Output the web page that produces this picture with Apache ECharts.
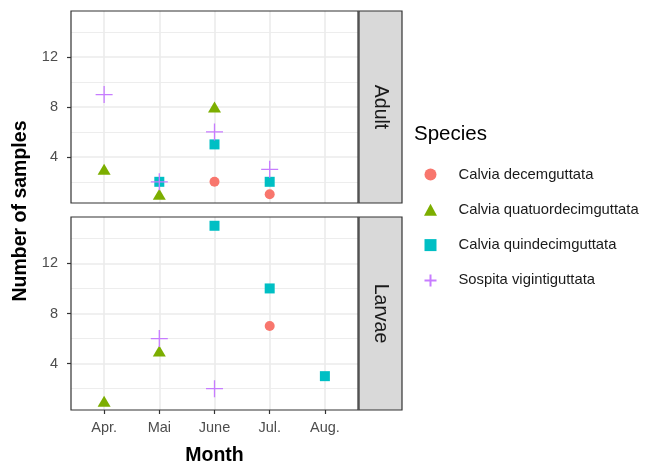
<!DOCTYPE html>
<html>
<head>
<meta charset="utf-8">
<script src="https://cdn.jsdelivr.net/npm/echarts@6/dist/echarts.min.js"></script>
<style>html,body{margin:0;padding:0;background:#fff}#c{width:649px;height:468px}</style>
</head>
<body>
<div id="c"></div>
<script>
const months = ['Apr.', 'Mai', 'June', 'Jul.', 'Aug.'];
const species = ['Calvia decemguttata', 'Calvia quatuordecimguttata', 'Calvia quindecimguttata', 'Sospita vigintiguttata'];
const panels = ['Adult', 'Larvae'];
// values per month (Apr., Mai, June, Jul., Aug.), null = no point
const adultDecem   = [null, null, 2, 1, null];
const adultQuatuor = [3, 1, 8, null, null];
const adultQuinde  = [null, 2, 5, 2, null];
const adultSospita = [9, 2, 6, 3, null];
const larvaeDecem   = [null, null, null, 7, null];
const larvaeQuatuor = [1, 5, null, null, null];
const larvaeQuinde  = [null, null, 15, 10, 3];
const larvaeSospita = [null, 6, 2, null, null];
const yTicks = [4, 8, 12];
const yMinor = [2, 6, 10, 14];

const colors = ['#F8766D', '#7CAE00', '#00BFC4', '#C77CFF'];
const plusPath = 'path://M5,0 L5,10 M0,5 L10,5';
const squarePath = 'path://M0,0 L10,0 L10,10 L0,10 Z';
const symbols = ['circle', 'triangle', 'rect', plusPath];
const legendIcons = ['circle', 'triangle', squarePath, plusPath];
const sizes = [10, [13, 11], 10, 17];
const panelData = [
  [adultDecem, adultQuatuor, adultQuinde, adultSospita],
  [larvaeDecem, larvaeQuatuor, larvaeQuinde, larvaeSospita]
];

const FONT = 'Liberation Sans, Arial, sans-serif';
const G = [
  {left: 71, top: 11, width: 287, height: 192},
  {left: 71, top: 217, width: 287, height: 193}
];

const series = [];
panelData.forEach((arr, p) => {
  const ml = [];
  yMinor.forEach(v => ml.push({yAxis: v, lineStyle: {color: '#EBEBEB', width: 0.9, type: 'solid'}}));
  yTicks.forEach(v => ml.push({yAxis: v, lineStyle: {color: '#EBEBEB', width: 1.6, type: 'solid'}}));
  months.forEach((m, i) => ml.push({xAxis: i + 1, lineStyle: {color: '#EBEBEB', width: 1.6, type: 'solid'}}));
  series.push({
    type: 'scatter', xAxisIndex: p, yAxisIndex: p, data: [], z: 1, silent: true,
    markLine: {silent: true, symbol: ['none', 'none'], label: {show: false}, animation: false, data: ml}
  });
  arr.forEach((vals, s) => {
    const data = [];
    vals.forEach((v, i) => { if (v !== null) data.push([i + 1, v]); });
    const isPlus = s === 3;
    series.push({
      name: species[s], type: 'scatter', xAxisIndex: p, yAxisIndex: p, z: 5,
      symbol: symbols[s], symbolSize: sizes[s], data: data,
      itemStyle: isPlus ? {color: 'rgba(0,0,0,0)', borderColor: colors[s], borderWidth: 1.3, opacity: 1}
                        : {color: colors[s], opacity: 1},
      emphasis: {disabled: true}
    });
  });
});

const xAxes = G.map((g, p) => ({
  type: 'value', gridIndex: p, min: 0.4, max: 5.6,
  axisLine: {show: false},
  splitLine: {show: false},
  axisTick: {show: p === 1, customValues: [1, 2, 3, 4, 5], length: 4, lineStyle: {color: '#333333', width: 1.2}},
  axisLabel: {show: p === 1, customValues: [1, 2, 3, 4, 5], formatter: v => months[Math.round(v) - 1] || '',
              color: '#4D4D4D', fontSize: 14.5, fontFamily: FONT, margin: 10},
  name: p === 1 ? 'Month' : '', nameLocation: 'middle', nameGap: 36,
  nameTextStyle: {fontSize: 19.5, fontWeight: 'bold', color: '#000', fontFamily: FONT}
}));
const yAxes = G.map((g, p) => ({
  type: 'value', gridIndex: p, min: 0.3, max: 15.7,
  axisLine: {show: false},
  splitLine: {show: false},
  axisTick: {show: true, customValues: yTicks, length: 4, lineStyle: {color: '#333333', width: 1.2}},
  axisLabel: {customValues: yTicks, color: '#4D4D4D', fontSize: 14.5, fontFamily: FONT, margin: 13}
}));

const graphics = [];
G.forEach((g, p) => {
  graphics.push({type: 'rect', z: 100, shape: {x: g.left, y: g.top, width: g.width, height: g.height},
    style: {fill: 'none', stroke: '#333333', lineWidth: 1.2}});
  graphics.push({type: 'rect', z: 100, shape: {x: g.left + g.width + 1, y: g.top, width: 43, height: g.height},
    style: {fill: '#D9D9D9', stroke: '#333333', lineWidth: 1.2}});
  graphics.push({type: 'text', z: 101, x: g.left + g.width + 22.5, y: g.top + g.height / 2, rotation: -Math.PI / 2,
    style: {text: panels[p], fill: '#1A1A1A', fontSize: 19.5, fontFamily: FONT, align: 'center', verticalAlign: 'middle'}});
});
graphics.push({type: 'text', z: 101, x: 21, y: 211, rotation: Math.PI / 2,
  style: {text: 'Number of samples', fill: '#000', fontSize: 19.5, fontWeight: 'bold', fontFamily: FONT, align: 'center', verticalAlign: 'middle'}});

const chart = echarts.init(document.getElementById('c'), null, {renderer: 'canvas'});
chart.setOption({
  animation: false,
  backgroundColor: '#ffffff',
  grid: G.map(g => Object.assign({containLabel: false}, g)),
  xAxis: xAxes,
  yAxis: yAxes,
  title: {text: 'Species', left: 414, top: 124, textStyle: {fontSize: 20.5, fontWeight: 'normal', color: '#000', fontFamily: FONT}, padding: 0},
  legend: {
    orient: 'vertical', left: 418.5, top: 160.5, itemGap: 17.3, itemWidth: 13, itemHeight: 12,
    data: species.map((s, i) => ({name: s, icon: legendIcons[i]})),
    textStyle: {fontSize: 14.8, lineHeight: 18, color: '#1A1A1A', fontFamily: FONT, padding: [0, 0, 0, 16.5]},
    selectedMode: false
  },
  graphic: graphics,
  series: series
});
</script>
</body>
</html>
